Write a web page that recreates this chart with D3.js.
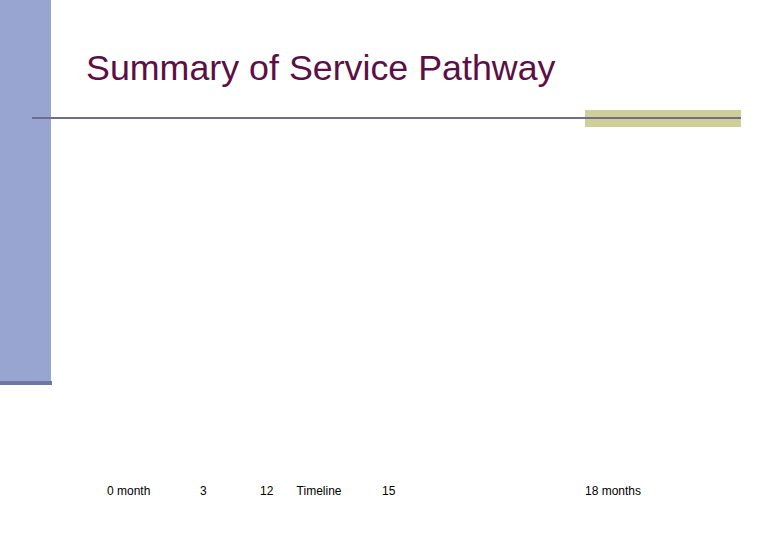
<!DOCTYPE html>
<html><head><meta charset="utf-8">
<script src="https://cdn.jsdelivr.net/npm/d3@7"></script>
<style>body{margin:0;background:#fff}</style>
</head><body>
<div id="chart"></div>
<script>
const title = "Summary of Service Pathway";
const tickMonths = [0, 3, 12, 15, 18];
const tickLabels = ["0 month", "3", "12", "15", "18 months"];
const axisName = "Timeline";
const axisNameAt = 12.9;

const width = 780, height = 540;
const svg = d3.select("#chart").append("svg")
    .attr("width", width).attr("height", height);

// slide decoration
svg.append("rect").attr("x", 0).attr("y", 0).attr("width", 51).attr("height", 383)
    .attr("fill", "#97a5d0");
svg.append("rect").attr("x", 0).attr("y", 381).attr("width", 52).attr("height", 4)
    .attr("fill", "#6f77a3");
svg.append("rect").attr("x", 585).attr("y", 110).attr("width", 156).attr("height", 17)
    .attr("fill", "#cfcf9a");
svg.append("line").attr("x1", 32).attr("x2", 741).attr("y1", 118).attr("y2", 118)
    .attr("stroke", "#6e6e8c").attr("stroke-width", 2);

svg.append("text").attr("x", 86).attr("y", 80)
    .attr("font-family", "Liberation Sans, Arial, sans-serif")
    .attr("font-size", 35.8).attr("fill", "#5c0f45")
    .text(title);

// timeline (non-uniform spacing as on the slide)
const x = d3.scaleLinear().domain([0, 3, 12, 15, 18]).range([107, 200, 260, 382, 585]);

const g = svg.append("g")
    .attr("font-family", "Liberation Sans, Arial, sans-serif")
    .attr("font-size", 12).attr("fill", "#000");

g.selectAll("text.tick").data(tickMonths).enter().append("text")
    .attr("class", "tick")
    .attr("x", d => x(d)).attr("y", 495)
    .text((d, i) => tickLabels[i]);

g.append("text").attr("x", x(axisNameAt)).attr("y", 495).text(axisName);
</script>
</body></html>
